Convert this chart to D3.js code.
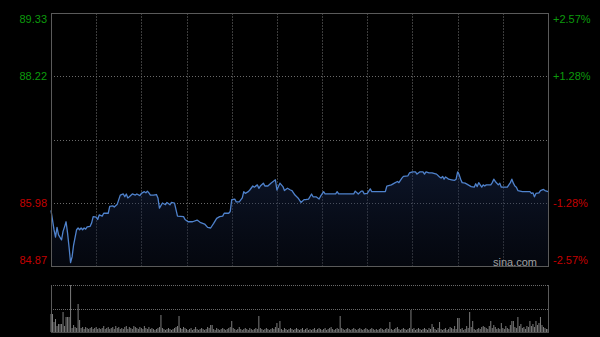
<!DOCTYPE html>
<html>
<head>
<meta charset="utf-8">
<script src="https://cdn.jsdelivr.net/npm/d3@7"></script>
<style>
  html, body { margin: 0; padding: 0; background: #000; }
  svg { display: block; }
</style>
</head>
<body>
<script>
// minutes since open (HK session, 330 min) and price at that minute
const minutes = [0,2,3,4,5,7,8,9,10,11,12,13,14,15,17,18,19,20,21,22,23,24,26,27,28,30,31,32,34,35,38,39,41,42,44,45,46,48,49,50,51,52,54,56,57,59,60,62,63,64,65,66,68,70,71,72,74,76,77,79,80,82,84,88,89,91,94,97,99,102,104,106,108,110,112,114,115,118,119,120,122,123,125,127,128,129,131,132,134,135,137,138,139,141,142,144,146,149,150,152,154,155,157,159,160,162,164,166,168,169,171,173,174,176,178,179,181,182,189,190,191,201,202,204,206,207,208,210,212,213,222,223,226,228,230,231,233,234,237,238,240,242,243,245,247,248,249,251,253,256,258,259,260,261,262,263,264,266,268,269,270,271,272,273,275,277,279,281,282,283,284,286,287,288,289,292,293,294,295,297,298,299,300,303,304,305,306,307,308,309,310,313,318,319,320,321,322,324,325,327,328,330];
const prices = [85.85,85.51,85.38,85.55,85.42,85.33,85.48,85.56,85.65,85.45,85.20,84.93,85.03,85.24,85.51,85.54,85.51,85.54,85.51,85.54,85.52,85.56,85.57,85.63,85.74,85.73,85.69,85.77,85.75,85.80,85.80,85.92,85.93,85.91,85.96,86.04,86.12,86.14,86.09,86.14,86.07,86.09,86.14,86.12,86.14,86.11,86.15,86.18,86.16,86.19,86.16,86.12,86.12,86.13,86.07,85.89,85.98,85.95,85.99,85.95,85.99,85.98,85.75,85.74,85.69,85.65,85.65,85.68,85.64,85.61,85.55,85.54,85.62,85.71,85.74,85.75,85.80,85.80,85.83,86.04,86.05,86.00,86.00,86.07,86.18,86.15,86.18,86.21,86.28,86.26,86.30,86.24,86.28,86.33,86.28,86.28,86.33,86.39,86.21,86.33,86.27,86.20,86.24,86.21,86.20,86.12,86.07,85.99,86.04,86.04,86.05,86.14,86.09,86.09,86.05,86.10,86.18,86.14,86.14,86.18,86.14,86.14,86.19,86.14,86.19,86.19,86.14,86.15,86.23,86.18,86.18,86.28,86.30,86.33,86.36,86.34,86.42,86.45,86.46,86.51,86.53,86.53,86.49,86.53,86.53,86.49,86.53,86.51,86.51,86.49,86.44,86.42,86.45,86.40,86.44,86.42,86.40,86.39,86.38,86.40,86.53,86.48,86.40,86.34,86.33,86.30,86.27,86.26,86.32,86.27,86.34,86.26,86.30,86.28,86.30,86.30,86.34,86.40,86.36,86.30,86.33,86.26,86.26,86.26,86.30,86.34,86.40,86.33,86.28,86.26,86.20,86.18,86.18,86.15,86.16,86.09,86.15,86.16,86.20,86.22,86.20,86.18];

// volume per minute (lots)
const volumes = [
  180,180,100,130,60,80,80,80,200,60,150,150,150,470,40,70,50,40,280,120,40,50,30,50,40,30,40,50,30,40,
  50,30,40,30,40,60,30,40,50,30,40,50,30,60,40,50,30,40,30,50,60,30,50,40,30,60,50,40,30,50,
  40,30,60,40,30,50,30,40,30,20,30,40,50,170,40,30,20,30,40,30,20,30,40,50,60,160,40,30,50,40,
  30,20,30,40,20,30,50,30,20,30,40,30,20,30,50,40,70,70,30,20,40,30,20,30,40,30,20,30,40,50,
  110,40,30,20,30,50,30,20,30,40,30,20,40,30,20,30,40,30,160,40,30,20,30,40,30,20,30,40,30,50,
  90,40,110,30,20,40,30,20,30,40,30,20,30,40,30,20,30,40,20,30,40,20,30,20,30,40,20,30,40,30,
  20,30,40,20,30,40,50,30,20,30,40,30,160,40,30,20,30,40,30,20,30,40,30,20,30,40,30,20,30,40,
  30,20,30,40,30,20,30,20,30,40,30,20,30,40,30,100,30,20,30,40,50,30,20,30,40,30,20,30,40,220,
  30,40,20,30,40,30,20,30,40,30,20,40,30,80,50,30,20,40,100,30,20,30,40,20,30,50,40,30,60,30,
  140,140,30,40,20,30,60,40,200,50,110,30,20,30,40,30,50,60,50,40,30,60,110,40,70,50,30,40,30,90,
  40,30,60,40,30,70,110,110,50,40,150,60,80,40,50,30,60,50,110,60,80,50,110,70,90,150,70,50,40,30,
  30
];

const prevClose = 87.10;
const priceMin = 84.87, priceMax = 89.33;
const leftLabels = ["89.33", "88.22", "85.98", "84.87"];
const leftValues = [89.33, 88.22, 85.98, 84.87];
const rightLabels = ["+2.57%", "+1.28%", "-1.28%", "-2.57%"];
const gridPrices = [88.22, 87.10, 85.98];
const gridMinutes = [30, 60, 90, 120, 150, 180, 210, 240, 270, 300];

const W = 600, H = 337;
const plotL = 51, plotR = 548, plotT = 13, plotB = 266;
const volT = 285, volB = 332;

const svg = d3.select("body").append("svg")
    .attr("width", W)
    .attr("height", H)
    .style("background", "#000");

const x = d3.scaleLinear().domain([0, 330]).range([plotL, plotR]);
const y = d3.scaleLinear().domain([priceMin, priceMax]).range([plotB, plotT]);
const yv = d3.scaleLinear().domain([0, d3.max(volumes)]).range([volB, volT]);

const font = "Arial, 'Liberation Sans', sans-serif";
const green = "#0c9a0c", red = "#c40000";

// gradient under the line
const defs = svg.append("defs");
const grad = defs.append("linearGradient").attr("id", "fill").attr("x1", 0).attr("y1", 0).attr("x2", 0).attr("y2", 1);
grad.append("stop").attr("offset", "0%").attr("stop-color", "#1a2c55").attr("stop-opacity", 0.45);
grad.append("stop").attr("offset", "100%").attr("stop-color", "#0d1428").attr("stop-opacity", 0.35);

// vertical grid
svg.selectAll(".vgrid").data(gridMinutes).join("line")
    .attr("x1", d => Math.round(x(d)) + 0.5).attr("x2", d => Math.round(x(d)) + 0.5)
    .attr("y1", plotT).attr("y2", plotB)
    .attr("stroke", "#3c3c3c").attr("stroke-dasharray", "2,1");

// horizontal grid
svg.selectAll(".hgrid").data(gridPrices).join("line")
    .attr("x1", plotL).attr("x2", plotR)
    .attr("y1", d => Math.round(y(d)) + 0.5).attr("y2", d => Math.round(y(d)) + 0.5)
    .attr("stroke", "#6a6a6a").attr("stroke-dasharray", "1,2");

const pts = minutes.map((m, i) => [m, prices[i]]);

svg.append("path")
    .datum(pts)
    .attr("d", d3.area().x(d => x(d[0])).y0(plotB).y1(d => y(d[1])))
    .attr("fill", "url(#fill)");

svg.append("path")
    .datum(pts)
    .attr("d", d3.line().x(d => x(d[0])).y(d => y(d[1])))
    .attr("fill", "none")
    .attr("stroke", "#4f82cc")
    .attr("stroke-width", 1.3)
    .attr("stroke-linejoin", "round");

// frame
svg.append("rect")
    .attr("x", plotL + 0.5).attr("y", plotT + 0.5)
    .attr("width", plotR - plotL).attr("height", plotB - plotT)
    .attr("fill", "none").attr("stroke", "#5a5a5a");

// labels
const labelY = (d, i) => i === 0 ? y(d) + 6 : i === leftValues.length - 1 ? y(d) - 6 : y(d);

svg.selectAll(".llab").data(leftValues).join("text")
    .attr("x", 47)
    .attr("y", labelY)
    .attr("dy", "0.35em")
    .attr("text-anchor", "end")
    .attr("fill", d => d > prevClose ? green : red)
    .style("font", `11px ${font}`)
    .text((d, i) => leftLabels[i]);

svg.selectAll(".rlab").data(leftValues).join("text")
    .attr("x", 553)
    .attr("y", labelY)
    .attr("dy", "0.35em")
    .attr("fill", d => d > prevClose ? green : red)
    .style("font", `11px ${font}`)
    .text((d, i) => rightLabels[i]);

svg.append("text")
    .attr("x", 537).attr("y", 262).attr("dy", "0.35em")
    .attr("text-anchor", "end")
    .attr("fill", "#a0a0a0")
    .style("font", `11px ${font}`)
    .text("sina.com");

// volume panel
svg.selectAll(".vline").data([volT, (volT + volB) / 2]).join("line")
    .attr("x1", plotL).attr("x2", plotR)
    .attr("y1", d => Math.round(d) + 0.5).attr("y2", d => Math.round(d) + 0.5)
    .attr("stroke", "#6a6a6a").attr("stroke-dasharray", "1,1");

svg.selectAll(".vbar").data(volumes).join("rect")
    .attr("x", (d, i) => x(i) - 0.5)
    .attr("y", d => yv(d))
    .attr("width", 1)
    .attr("height", d => volB - yv(d))
    .attr("fill", "#7c7c7c");

svg.append("line").attr("x1", plotL + 0.5).attr("x2", plotL + 0.5).attr("y1", volT).attr("y2", volB).attr("stroke", "#5a5a5a");
svg.append("line").attr("x1", plotR + 0.5).attr("x2", plotR + 0.5).attr("y1", volT).attr("y2", volB).attr("stroke", "#5a5a5a");
svg.append("line").attr("x1", plotL).attr("x2", plotR + 1).attr("y1", volB + 0.5).attr("y2", volB + 0.5).attr("stroke", "#4a4a4a");
</script>
</body>
</html>
